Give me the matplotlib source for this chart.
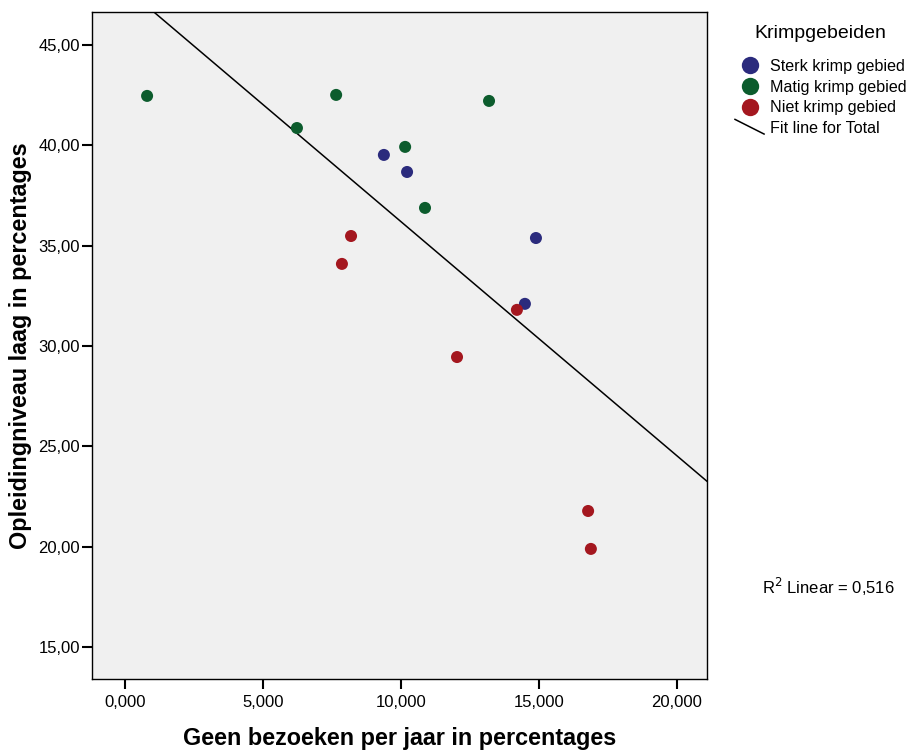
import numpy as np
import matplotlib
matplotlib.use('Agg')
import matplotlib.pyplot as plt
from matplotlib.lines import Line2D
from matplotlib.legend_handler import HandlerBase
from matplotlib.ticker import FuncFormatter

plt.rcParams['font.family'] = ['Liberation Sans', 'DejaVu Sans']

groups = ['Sterk krimp gebied', 'Matig krimp gebied', 'Niet krimp gebied']
colors = ['#2b2b7d', '#0c5c2d', '#a4171f']

sterk_x = [9380, 10220, 14890, 14490]
sterk_y = [39.52, 38.67, 35.38, 32.10]
matig_x = [800, 6230, 7650, 10150, 13190, 10870]
matig_y = [42.46, 40.86, 42.51, 39.92, 42.21, 36.88]
niet_x = [8190, 7860, 12030, 14200, 16780, 16880]
niet_y = [35.48, 34.09, 29.45, 31.80, 21.78, 19.89]

xs = [sterk_x, matig_x, niet_x]
ys = [sterk_y, matig_y, niet_y]
r2_label = '0,516'

fig = plt.figure(figsize=(9.1, 7.51), dpi=100)
ax = fig.add_axes([0.1011, 0.0959, 0.6758, 0.8881])
ax.set_facecolor('#f0f0f0')

handles = []
for x, y, c, g in zip(xs, ys, colors, groups):
    ax.scatter(x, y, s=75, color=c, edgecolors='none', zorder=3)
    handles.append(Line2D([], [], marker='o', linestyle='none', markersize=12.5,
                          markerfacecolor=c, markeredgecolor='none', label=g))

# fit line for total
all_x = np.concatenate([np.array(v, float) for v in xs])
all_y = np.concatenate([np.array(v, float) for v in ys])
b, a = np.polyfit(all_x, all_y, 1)
xl = np.array([-2000, 22000])
ax.plot(xl, a + b * xl, color='black', lw=1.1, zorder=2)

ax.set_xlim(-1196, 21087)
ax.set_ylim(13.41, 46.64)
ax.set_xticks([0, 5000, 10000, 15000, 20000])
ax.set_yticks([15, 20, 25, 30, 35, 40, 45])
ax.xaxis.set_major_formatter(FuncFormatter(lambda v, p: f'{v/1000:.3f}'.replace('.', ',')))
ax.yaxis.set_major_formatter(FuncFormatter(lambda v, p: f'{v:.2f}'.replace('.', ',')))
ax.tick_params(direction='out', length=7.5, width=1.5, labelsize=12)
ax.tick_params(axis='x', pad=4)
ax.tick_params(axis='y', pad=1)
for s in ax.spines.values():
    s.set_linewidth(1.0)

ax.set_xlabel('Geen bezoeken per jaar in percentages', fontsize=16.8, fontweight='bold', labelpad=12)
ax.set_ylabel('Opleidingniveau laag in percentages', fontsize=16.8, fontweight='bold', labelpad=5)


class DiagHandler(HandlerBase):
    def create_artists(self, legend, orig, xdescent, ydescent, width, height, fontsize, trans):
        l = Line2D([-xdescent, -xdescent + width * 0.97], [-ydescent + height * 1.2, -ydescent - height * 0.1],
                   color='black', lw=1.1, transform=trans)
        return [l]


fit_handle = Line2D([], [], color='black', label='Fit line for Total')
handles.append(fit_handle)
fig.text(820 / 910, 1 - 33 / 751, 'Krimpgebeiden', fontsize=14, ha='center', va='center')
leg = fig.legend(handles=handles, loc='upper left', bbox_to_anchor=(735 / 910, 1 - 59 / 751),
                 frameon=False, fontsize=11.6,
                 handlelength=1.86, handletextpad=0.3, labelspacing=0.35, borderpad=0,
                 borderaxespad=0, handler_map={fit_handle: DiagHandler()})

fig.text(762 / 910, 1 - 587 / 751, 'R$^2$ Linear = ' + r2_label, fontsize=12, ha='left', va='center')

fig.savefig('out.png', dpi=100)
